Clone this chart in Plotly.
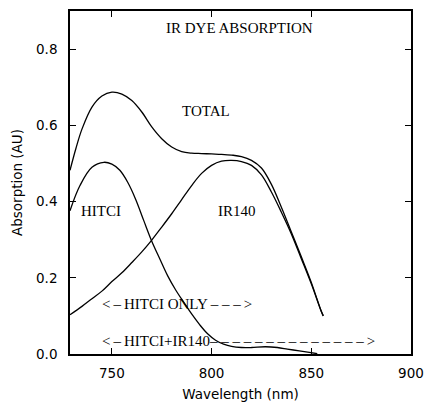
import plotly.graph_objects as go

# Wavelength grids (nm) and absorption values (AU)
hitci_wl = [729, 734, 740, 746, 750, 754, 758, 762, 766, 770, 774, 778, 782, 786,
            790, 794, 798, 802, 806, 810, 815, 820, 827, 833, 838, 844, 849, 853]
hitci_abs = [0.376, 0.442, 0.490, 0.503, 0.498, 0.482, 0.450, 0.405, 0.350, 0.296,
             0.250, 0.205, 0.168, 0.136, 0.105, 0.077, 0.053, 0.036, 0.026, 0.020,
             0.017, 0.017, 0.019, 0.017, 0.013, 0.008, 0.004, 0.001]

ir140_wl = [729, 735, 740, 745, 750, 755, 760, 765, 770, 775, 780, 785, 790, 795,
            800, 805, 810, 815, 820, 825, 830, 835, 840, 845, 850, 855, 856]
ir140_abs = [0.103, 0.125, 0.145, 0.165, 0.190, 0.213, 0.240, 0.268, 0.299, 0.333,
             0.368, 0.405, 0.442, 0.474, 0.495, 0.506, 0.508, 0.505, 0.495, 0.470,
             0.425, 0.372, 0.315, 0.250, 0.184, 0.112, 0.100]

total_wl = [729, 732, 735, 740, 745, 750, 755, 760, 765, 770, 775, 780, 785, 790,
            795, 800, 805, 810, 815, 820, 825, 830, 835, 840, 845, 850, 855, 856]
total_abs = [0.482, 0.540, 0.590, 0.648, 0.677, 0.687, 0.682, 0.665, 0.635, 0.596,
             0.565, 0.543, 0.531, 0.527, 0.526, 0.525, 0.524, 0.522, 0.518, 0.508,
             0.488, 0.445, 0.385, 0.320, 0.255, 0.188, 0.112, 0.100]

x_ticks = [750, 800, 850, 900]
y_ticks = [0.0, 0.2, 0.4, 0.6, 0.8]

title_text = "IR DYE ABSORPTION"
labels = ["TOTAL", "HITCI", "IR140"]
label_wl = [797, 744.5, 812.5]
label_abs = [0.637, 0.374, 0.376]

dash = "\u2013"
thin = "\u2009"
range_labels = ["<" + thin + dash + thin + "HITCI ONLY" + thin
                + " ".join([dash] * 3) + thin + ">",
                "<" + thin + dash + thin + "HITCI+IR140"
                + " ".join([dash] * 14) + thin + ">"]
range_wl = [744, 744]
range_abs = [0.132, 0.034]

fig = go.Figure()
line_style = dict(color="black", width=1.3, shape="spline", smoothing=1.0)
for wl, ab, name in [(total_wl, total_abs, "TOTAL"),
                     (hitci_wl, hitci_abs, "HITCI"),
                     (ir140_wl, ir140_abs, "IR140")]:
    fig.add_trace(go.Scatter(x=wl, y=ab, mode="lines", line=line_style,
                             name=name, showlegend=False, hoverinfo="skip"))

serif = dict(family="Liberation Serif", size=15, color="black")
annotations = [dict(x=813.75, y=0.855, text=title_text, showarrow=False,
                    xref="x", yref="y", font=serif)]
for t, x, y in zip(labels, label_wl, label_abs):
    annotations.append(dict(x=x, y=y, text=t, showarrow=False, xref="x",
                            yref="y", font=serif))
for t, x, y in zip(range_labels, range_wl, range_abs):
    annotations.append(dict(x=x, y=y, text=t, showarrow=False, xref="x",
                            yref="y", xanchor="left", font=serif))

sans = dict(family="DejaVu Sans", size=13.5, color="black")
axis_common = dict(showline=True, linecolor="black", linewidth=1.6,
                   mirror="ticks", ticks="inside", ticklen=6, tickwidth=1.4,
                   tickcolor="black", showgrid=False, zeroline=False,
                   tickfont=sans, automargin=False)

fig.update_layout(
    width=427, height=406,
    margin=dict(l=70, r=16, t=11, b=52),
    paper_bgcolor="white", plot_bgcolor="white",
    annotations=annotations,
    xaxis=dict(range=[729, 900], tickvals=x_ticks,
               ticktext=[str(v) for v in x_ticks],
               title=dict(text="Wavelength (nm)", font=sans, standoff=10),
               ticklabelstandoff=6, **axis_common),
    yaxis=dict(range=[0, 0.9], tickvals=y_ticks,
               ticktext=["%.1f" % v for v in y_ticks],
               title=dict(text="Absorption (AU)", font=sans, standoff=10),
               ticklabelstandoff=8, **axis_common),
)

fig.write_html("out.html")
